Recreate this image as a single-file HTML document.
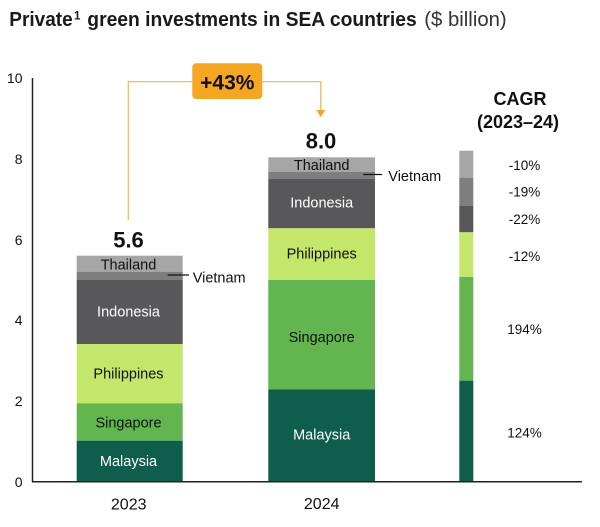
<!DOCTYPE html>
<html><head><meta charset="utf-8"><style>
html,body{margin:0;padding:0;background:#fff;}
svg{display:block;}
text{font-family:"Liberation Sans",Arial,sans-serif;}
</style></head><body>
<svg width="600" height="527" viewBox="0 0 600 527" xmlns="http://www.w3.org/2000/svg">
<!-- Title -->
<text x="9.3" y="26" font-size="20" font-weight="bold" fill="#1a1a1a" textLength="63.4" lengthAdjust="spacingAndGlyphs">Private</text>
<text x="74" y="19.5" font-size="11.5" font-weight="bold" fill="#1a1a1a">1</text>
<text x="87.3" y="26" font-size="20" font-weight="bold" fill="#1a1a1a" textLength="329.4" lengthAdjust="spacingAndGlyphs">green investments in SEA countries</text>
<text x="424.3" y="26" font-size="20" fill="#333" textLength="82.4" lengthAdjust="spacingAndGlyphs">($ billion)</text>

<!-- Y axis -->
<line x1="32.5" y1="78" x2="32.5" y2="482" stroke="#222" stroke-width="1.5"/>
<g font-size="14" fill="#111" text-anchor="end">
<text x="22.5" y="487">0</text>
<text x="22.5" y="406">2</text>
<text x="22.5" y="325">4</text>
<text x="22.5" y="245">6</text>
<text x="22.5" y="164">8</text>
<text x="22.5" y="83">10</text>
</g>

<!-- 2023 bar -->
<rect x="76.7" y="255.7" width="106" height="16" fill="#a6a6a6"/>
<rect x="76.7" y="271.7" width="106" height="8.3" fill="#7e7e7e"/>
<rect x="76.7" y="280" width="106" height="64" fill="#58585a"/>
<rect x="76.7" y="344" width="106" height="59.3" fill="#c4e66b"/>
<rect x="76.7" y="403.3" width="106" height="37.4" fill="#63b64f"/>
<rect x="76.7" y="440.7" width="106" height="40.8" fill="#0f5e4c"/>
<g font-size="14.5" text-anchor="middle">
<text x="128.5" y="269.3" fill="#111">Thailand</text>
<text x="128.5" y="316.7" fill="#fff">Indonesia</text>
<text x="128.5" y="378.3" fill="#111">Philippines</text>
<text x="128.5" y="427.3" fill="#111">Singapore</text>
<text x="128.5" y="466" fill="#fff">Malaysia</text>
</g>
<line x1="167.7" y1="275" x2="189" y2="275" stroke="#111" stroke-width="1.3"/>
<text x="192.7" y="282.5" font-size="14.5" fill="#111">Vietnam</text>
<text x="128.5" y="247.3" font-size="22" font-weight="bold" fill="#111" text-anchor="middle">5.6</text>

<!-- 2024 bar -->
<rect x="268.3" y="157.3" width="106.7" height="14.7" fill="#a6a6a6"/>
<rect x="268.3" y="172" width="106.7" height="7" fill="#7e7e7e"/>
<rect x="268.3" y="179" width="106.7" height="49.3" fill="#58585a"/>
<rect x="268.3" y="228.3" width="106.7" height="51.7" fill="#c4e66b"/>
<rect x="268.3" y="280" width="106.7" height="109.3" fill="#63b64f"/>
<rect x="268.3" y="389.3" width="106.7" height="92.2" fill="#0f5e4c"/>
<g font-size="14.5" text-anchor="middle">
<text x="321.7" y="170" fill="#111">Thailand</text>
<text x="321.7" y="207.7" fill="#fff">Indonesia</text>
<text x="321.7" y="258.3" fill="#111">Philippines</text>
<text x="321.7" y="342" fill="#111">Singapore</text>
<text x="321.7" y="439.3" fill="#fff">Malaysia</text>
</g>
<line x1="363.3" y1="174.5" x2="382" y2="174.5" stroke="#111" stroke-width="1.3"/>
<text x="388.3" y="181" font-size="14.5" fill="#111">Vietnam</text>
<text x="321" y="148.5" font-size="22" font-weight="bold" fill="#111" text-anchor="middle">8.0</text>

<!-- CAGR bar -->
<rect x="459.3" y="150.7" width="14" height="27" fill="#a6a6a6"/>
<rect x="459.3" y="177.7" width="14" height="28" fill="#7e7e7e"/>
<rect x="459.3" y="205.7" width="14" height="26.6" fill="#58585a"/>
<rect x="459.3" y="232.3" width="14" height="44.7" fill="#c4e66b"/>
<rect x="459.3" y="277" width="14" height="103.7" fill="#63b64f"/>
<rect x="459.3" y="380.7" width="14" height="100.8" fill="#0f5e4c"/>
<g font-size="13.5" fill="#111" text-anchor="middle">
<text x="524.5" y="169.8">-10%</text>
<text x="524.5" y="196.5">-19%</text>
<text x="524.5" y="224.1">-22%</text>
<text x="524.5" y="260.8">-12%</text>
<text x="524.5" y="334.1">194%</text>
<text x="524.5" y="437.5">124%</text>
</g>
<text x="520" y="104.8" font-size="18" font-weight="bold" fill="#111" text-anchor="middle">CAGR</text>
<text x="518" y="128" font-size="18" font-weight="bold" fill="#111" text-anchor="middle">(2023–24)</text>

<!-- X axis -->
<line x1="32" y1="481.7" x2="582" y2="481.7" stroke="#222" stroke-width="1.5"/>
<text x="128.7" y="509.5" font-size="16" fill="#111" text-anchor="middle">2023</text>
<text x="321.7" y="509" font-size="16" fill="#111" text-anchor="middle">2024</text>

<!-- Growth bracket -->
<polyline points="128.3,220 128.3,81.7 192,81.7" fill="none" stroke="#f4b247" stroke-width="1.2"/>
<polyline points="262,81.7 320.8,81.7 320.8,111" fill="none" stroke="#f4b247" stroke-width="1.2"/>
<polygon points="316.3,110 325.3,110 320.8,117.3" fill="#f2a630"/>
<rect x="192.3" y="63.3" width="70" height="35.7" rx="4" ry="4" fill="#f5a623"/>
<text x="227.3" y="89.5" font-size="21" font-weight="bold" fill="#111" text-anchor="middle">+43%</text>
</svg>
</body></html>
